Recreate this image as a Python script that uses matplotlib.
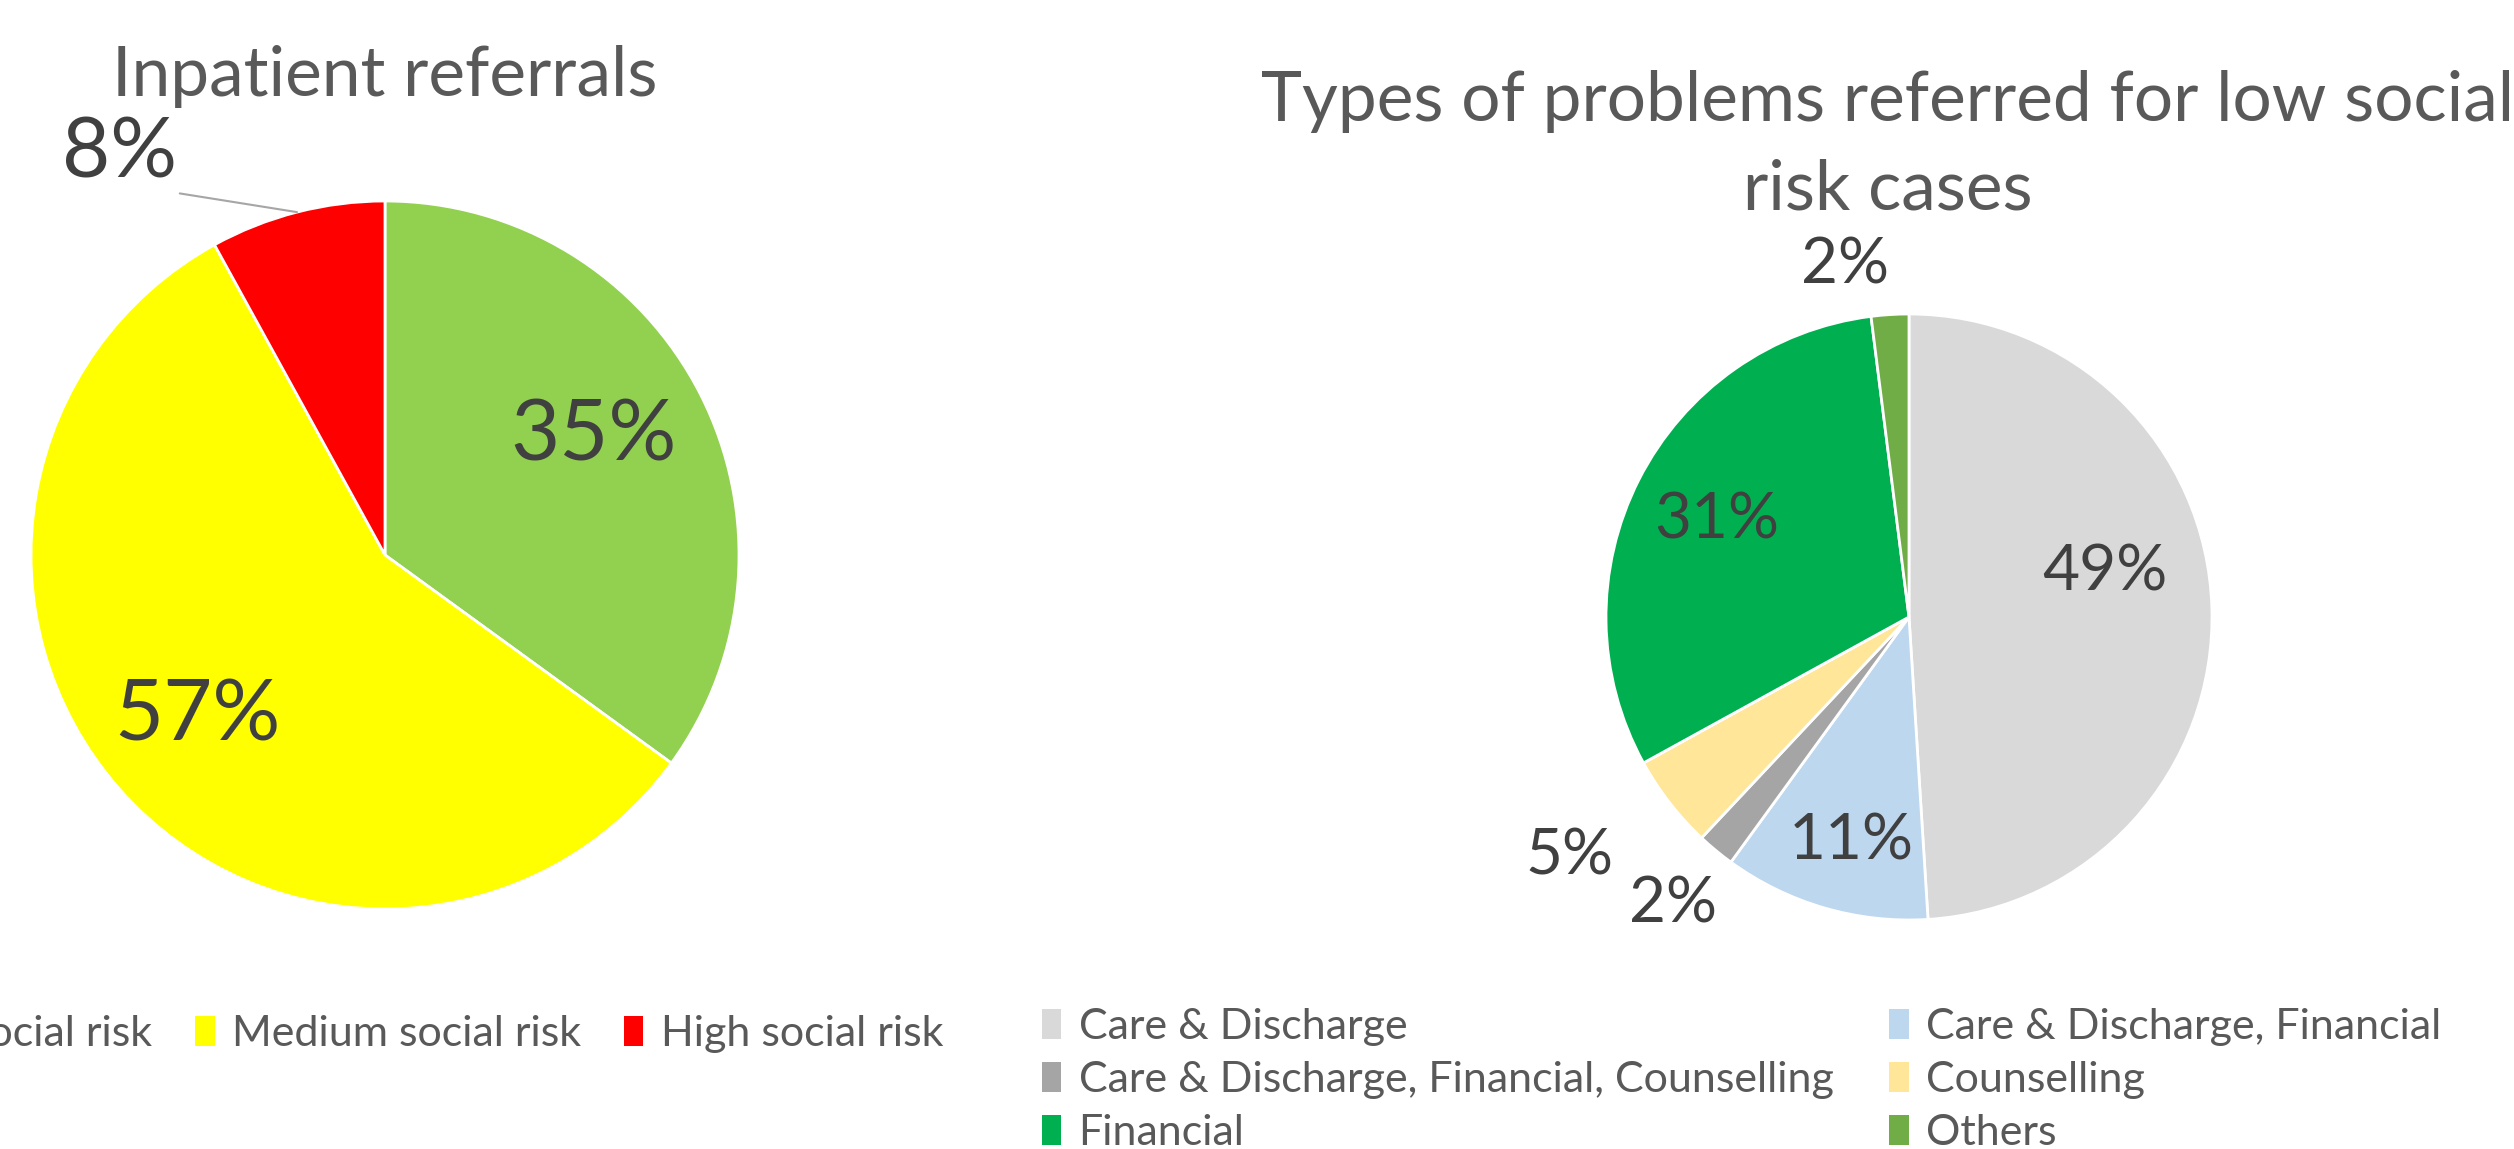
import numpy as np
import matplotlib.pyplot as plt
from matplotlib.patches import Patch

plt.rcParams['font.family'] = ['Lato', 'DejaVu Sans']

risk_labels = ['Low social risk', 'Medium social risk', 'High social risk']
risk_values = [35, 57, 8]
risk_colors = ['#92D050', '#FFFF00', '#FF0000']

problem_labels = ['Care & Discharge', 'Care & Discharge, Financial',
                  'Care & Discharge, Financial, Counselling', 'Counselling',
                  'Financial', 'Others']
problem_values = [49, 11, 2, 5, 31, 2]
problem_colors = ['#D9D9D9', '#BDD7EE', '#A5A5A5', '#FFE699', '#00B050', '#70AD47']

# where the % labels sit, in units of pie radius
risk_label_xy = [(0.59, 0.335), (-0.53, -0.457), (-0.75, 1.13)]
problem_label_xy = [(0.645, 0.148), (-0.19, -0.74), (-0.78, -0.95),
                    (-1.12, -0.79), (-0.635, 0.317), (-0.21, 1.16)]

W, H = 2514, 1149
fig = plt.figure(figsize=(W / 100, H / 100), dpi=100)

title_col = '#595959'
label_col = '#404040'


def pie_axes(cx, cy, r):
    # cx, cy, r in pixels from top-left
    return fig.add_axes([(cx - r) / W, (H - cy - r) / H, 2 * r / W, 2 * r / H])


# left pie
ax1 = pie_axes(385, 555, 354)
w1, _ = ax1.pie(risk_values, colors=risk_colors, startangle=90, counterclock=False,
                wedgeprops=dict(edgecolor='white', linewidth=2))
ax1.set_xlim(-1, 1)
ax1.set_ylim(-1, 1)
for w, v, (lx, ly) in zip(w1, risk_values, risk_label_xy):
    txt = f'{v}%'
    if v < 10:
        mid = np.deg2rad((w.theta1 + w.theta2) / 2)
        ax1.annotate(txt, xy=(np.cos(mid), np.sin(mid)), xytext=(lx, ly),
                     ha='center', va='center', fontsize=60, color=label_col,
                     arrowprops=dict(arrowstyle='-', color='#A6A6A6', lw=1.5,
                                     relpos=(1, 0.0), shrinkA=0, shrinkB=0))
    else:
        ax1.text(lx, ly, txt, ha='center', va='center', fontsize=61, color=label_col)

fig.text(385 / W, 1 - 76 / H, 'Inpatient referrals', ha='center', va='center',
         fontsize=50, color=title_col)

# right pie
ax2 = pie_axes(1909, 617, 303)
w2, _ = ax2.pie(problem_values, colors=problem_colors, startangle=90, counterclock=False,
                wedgeprops=dict(edgecolor='white', linewidth=2))
ax2.set_xlim(-1, 1)
ax2.set_ylim(-1, 1)
for v, (lx, ly) in zip(problem_values, problem_label_xy):
    ax2.text(lx, ly, f'{v}%', ha='center', va='center', fontsize=46, color=label_col)

fig.text(1888 / W, 1 - 146 / H, 'Types of problems referred for low social\nrisk cases',
         ha='center', va='center', fontsize=50, color=title_col, linespacing=1.5)

# legends
h1 = [Patch(facecolor=c) for c in risk_colors]
fig.legend(h1, risk_labels, ncol=3, loc='center right', bbox_to_anchor=(943 / W, 1 - 1034 / H),
           frameon=False, fontsize=31, labelcolor=title_col, handlelength=0.45,
           handleheight=0.7, handletextpad=0.4, columnspacing=1.0,
           borderaxespad=0, borderpad=0)

order = [0, 2, 4, 1, 3, 5]
h2 = [Patch(facecolor=problem_colors[i]) for i in order]
fig.legend(h2, [problem_labels[i] for i in order], ncol=2, loc='upper left',
           bbox_to_anchor=(1042 / W, 1 - 1008 / H), frameon=False, fontsize=31,
           labelcolor=title_col, handlelength=0.45, handleheight=0.7,
           handletextpad=0.4, columnspacing=1.3, labelspacing=0.35,
           borderaxespad=0, borderpad=0)

fig.savefig('out.png', dpi=100)
